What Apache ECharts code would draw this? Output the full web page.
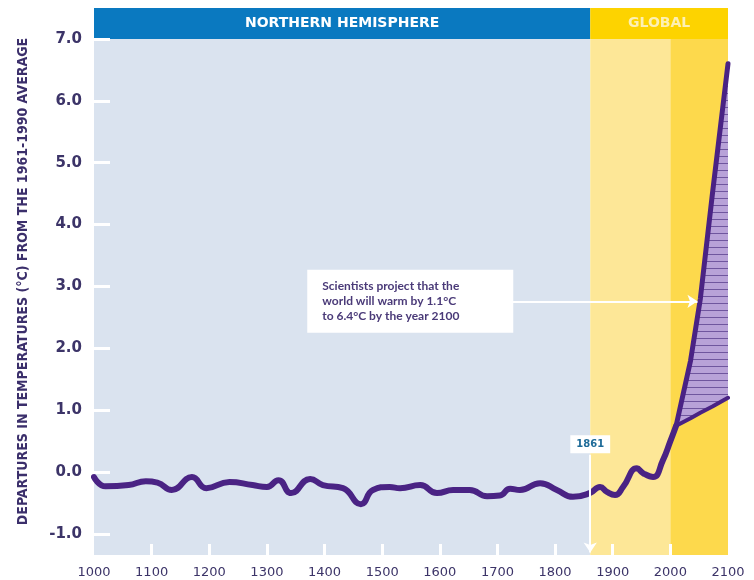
<!DOCTYPE html>
<html>
<head>
<meta charset="utf-8">
<script src="https://cdn.jsdelivr.net/npm/echarts@6/dist/echarts.min.js"></script>
<style>
  html, body { margin: 0; padding: 0; background: #fff; }
  #chart { width: 754px; height: 580px; }
</style>
</head>
<body>
<div id="chart"></div>
<script>
// reconstructed northern hemisphere record (smoothed)
const histYears = [1000, 1020, 1060, 1090, 1110, 1135, 1170, 1195, 1235, 1275, 1300, 1320, 1342,
  1375, 1397, 1432, 1463, 1484, 1513, 1531, 1566, 1595, 1623, 1652, 1682, 1704, 1722,
  1739, 1774, 1803, 1831, 1860, 1878, 1890, 1904, 1918, 1942, 1953, 1970, 1987, 2000, 2010]
const histTemps = [-0.08, -0.23, -0.21, -0.15, -0.17, -0.29, -0.08, -0.26, -0.16, -0.21, -0.24, -0.13, -0.34,
  -0.11, -0.21, -0.26, -0.52, -0.29, -0.24, -0.26, -0.21, -0.34, -0.29, -0.29, -0.39, -0.38, -0.27,
  -0.29, -0.18, -0.29, -0.40, -0.34, -0.24, -0.32, -0.37, -0.24, 0.06, -0.02, -0.08, 0.19, 0.50, 0.75]

// projection range to 2100
const projYears = [2010, 2035, 2052, 2073, 2100]
const projHigh = [0.75, 1.8, 2.8, 4.5, 6.6]
const projLow = [0.75, 0.87, 0.96, 1.06, 1.2]

const yTicks = [-1, 0, 1, 2, 3, 4, 5, 6, 7]
const xTicks = [1100, 1200, 1300, 1400, 1500, 1600, 1700, 1800, 1900, 2000]

const Y_MIN = -1.34
const Y_MAX = 7.5
const Y_TOP = 7
const YEAR_START = 1000
const YEAR_SPLIT = 1861
const YEAR_NOW = 2000
const YEAR_END = 2100

const NOTE_TEXT = 'Scientists project that the\nworld will warm by 1.1°C\nto 6.4°C by the year 2100'
const NOTE_AT = [1370, 2.76]
const NOTE_ARROW = [[1726, 2.76], [2047, 2.76]]
const SPLIT_ARROW = [[YEAR_SPLIT, 0.28], [YEAR_SPLIT, -1.3]]
const SPLIT_LABEL = [YEAR_SPLIT, 0.45]

const PURPLE = '#4a2384'
const TEXT = '#3c3468'

const histData = histYears.map((y, i) => [y, histTemps[i]])
const lowData = projYears.map((y, i) => [y, projLow[i]])
const highData = projYears.map((y, i) => [y, projHigh[i]])

// hatched band between the two projections
function renderRange (params, api) {
  const top = projYears.map((y, i) => api.coord([y, projHigh[i]]))
  const bottom = projYears.map((y, i) => api.coord([y, projLow[i]])).reverse()
  const pts = top.concat(bottom)
  const xs = pts.map(p => p[0])
  const ys = pts.map(p => p[1])
  const x0 = Math.min(...xs), x1 = Math.max(...xs)
  const y0 = Math.min(...ys), y1 = Math.max(...ys)
  const hatch = []
  for (let y = Math.floor(y1) - 2.5; y > y0; y -= 7) {
    hatch.push({
      type: 'line',
      shape: { x1: x0, y1: y, x2: x1, y2: y },
      style: { stroke: '#6f569e', lineWidth: 1 }
    })
  }
  return {
    type: 'group',
    children: [
      { type: 'polygon', shape: { points: pts }, style: { fill: '#b8a2d8' } },
      { type: 'group', clipPath: { type: 'polygon', shape: { points: pts } }, children: hatch }
    ]
  }
}

const chart = echarts.init(document.getElementById('chart'))
chart.setOption({
  animation: false,
  grid: { left: 94, right: 26, top: 8, bottom: 25, outerBoundsMode: 'none' },
  xAxis: {
    type: 'value',
    z: 10,
    min: YEAR_START, max: YEAR_END, interval: 100,
    axisLine: { show: false, onZero: false },
    splitLine: { show: false },
    axisTick: {
      show: true, inside: true, length: 11, customValues: xTicks,
      lineStyle: { color: '#fff', width: 3 }
    },
    axisLabel: {
      color: TEXT, fontSize: 13, fontFamily: 'DejaVu Sans', margin: 11,
      formatter: v => String(v)
    }
  },
  yAxis: {
    type: 'value',
    z: 10,
    min: Y_MIN, max: Y_MAX,
    name: 'DEPARTURES IN TEMPERATURES (°C) FROM THE 1961-1990 AVERAGE',
    nameLocation: 'middle',
    nameGap: 64,
    nameTextStyle: { color: '#3b2f6b', fontFamily: 'DejaVu Sans Condensed', fontWeight: 'bold', fontSize: 14 },
    axisLine: { show: false, onZero: false },
    splitLine: { show: false },
    axisTick: {
      show: true, inside: true, length: 16, customValues: yTicks,
      lineStyle: { color: '#fff', width: 3 }
    },
    axisLabel: {
      customValues: yTicks, margin: 12,
      color: TEXT, fontSize: 15, fontWeight: 'bold', fontFamily: 'DejaVu Sans',
      formatter: v => v.toFixed(1)
    }
  },
  series: [
    {
      // background bands and header banner
      type: 'line', data: [], z: 1, silent: true,
      markArea: {
        silent: true,
        data: [
          [{ xAxis: YEAR_START, yAxis: Y_MIN, itemStyle: { color: '#dae3ef' } }, { xAxis: YEAR_SPLIT, yAxis: Y_TOP }],
          [{ xAxis: YEAR_SPLIT, yAxis: Y_MIN, itemStyle: { color: '#fde797' } }, { xAxis: YEAR_NOW, yAxis: Y_TOP }],
          [{ xAxis: YEAR_NOW, yAxis: Y_MIN, itemStyle: { color: '#fdd94c' } }, { xAxis: YEAR_END, yAxis: Y_TOP }],
          [{
            name: 'NORTHERN HEMISPHERE', xAxis: YEAR_START, yAxis: Y_TOP,
            itemStyle: { color: '#0a79c0' },
            label: { show: true, position: 'inside', color: '#fff', fontWeight: 'bold', fontSize: 14, fontFamily: 'DejaVu Sans' }
          }, { xAxis: YEAR_SPLIT, yAxis: Y_MAX }],
          [{
            name: 'GLOBAL', xAxis: YEAR_SPLIT, yAxis: Y_TOP,
            itemStyle: { color: '#fdd300' },
            label: { show: true, position: 'inside', color: '#fdf0b4', fontWeight: 'bold', fontSize: 14, fontFamily: 'DejaVu Sans' }
          }, { xAxis: YEAR_END, yAxis: Y_MAX }]
        ]
      }
    },
    {
      // arrows
      type: 'line', data: [], z: 2, silent: true,
      markLine: {
        silent: true,
        symbol: ['none', 'arrow'],
        symbolSize: 10,
        label: { show: false },
        lineStyle: { color: '#fff', width: 2, type: 'solid' },
        data: [
          [{ coord: NOTE_ARROW[0] }, { coord: NOTE_ARROW[1] }],
          [{ coord: SPLIT_ARROW[0] }, { coord: SPLIT_ARROW[1] }]
        ]
      }
    },
    {
      name: 'range', type: 'custom', z: 3, silent: true,
      data: [[projYears[0], projLow[0]]],
      renderItem: renderRange
    },
    {
      name: 'history', type: 'line', z: 4,
      data: histData,
      smooth: 0.5, showSymbol: false,
      lineStyle: { color: PURPLE, width: 6, cap: 'round', join: 'round' }
    },
    {
      name: 'low', type: 'line', z: 4,
      data: lowData,
      showSymbol: false,
      lineStyle: { color: PURPLE, width: 4, cap: 'round' }
    },
    {
      name: 'high', type: 'line', z: 4,
      data: highData,
      showSymbol: false,
      lineStyle: { color: PURPLE, width: 5, cap: 'round', join: 'round' }
    },
    {
      // text boxes
      type: 'line', data: [], z: 5, silent: true,
      markPoint: {
        silent: true,
        symbolSize: 0,
        data: [
          {
            coord: NOTE_AT,
            label: {
              show: true, position: 'inside', formatter: NOTE_TEXT,
              align: 'left', verticalAlign: 'middle',
              width: 176, overflow: 'none',
              backgroundColor: '#fff', padding: [9, 15, 9, 15],
              color: '#4a3a78', fontSize: 12, lineHeight: 15, fontWeight: 'bold', fontFamily: 'Lato'
            }
          },
          {
            coord: SPLIT_LABEL,
            label: {
              show: true, position: 'inside', formatter: String(YEAR_SPLIT),
              backgroundColor: '#fff', padding: [4, 6],
              color: '#1e6b98', fontSize: 10, fontWeight: 'bold', fontFamily: 'DejaVu Sans'
            }
          }
        ]
      }
    }
  ]
})
</script>
</body>
</html>
